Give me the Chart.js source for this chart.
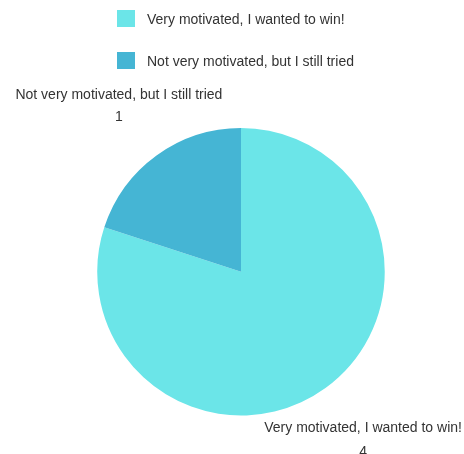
<!DOCTYPE html>
<html>
<head>
<meta charset="utf-8">
<script src="https://cdn.jsdelivr.net/npm/chart.js@4"></script>
<style>
  html, body { margin: 0; padding: 0; background: #fff; }
  #wrap { position: relative; width: 464px; height: 454px; overflow: hidden; }
  #legend { position: absolute; left: 117px; top: 0; font-family: "Liberation Sans", Arial, sans-serif; font-size: 14px; color: #333; }
  .item { position: absolute; left: 0; white-space: nowrap; display: flex; align-items: center; }
  .box { width: 18px; height: 17px; margin-right: 12px; display: inline-block; }
</style>
</head>
<body>
<div id="wrap">
  <canvas id="c" width="464" height="454"></canvas>
  <div id="legend"></div>
</div>
<script>
const categories = ["Very motivated, I wanted to win!", "Not very motivated, but I still tried"];
const values = [4, 1];
const colors = ["#6be5e8", "#45b5d4"];

// HTML legend
const legend = document.getElementById('legend');
const legendTops = [10, 52];
categories.forEach((c, i) => {
  const d = document.createElement('div');
  d.className = 'item';
  d.style.top = legendTops[i] + 'px';
  d.innerHTML = '<span class="box" style="background:' + colors[i] + '"></span><span>' + c + '</span>';
  legend.appendChild(d);
});

const outsideLabels = {
  id: 'outsideLabels',
  afterDatasetsDraw(chart) {
    const ctx = chart.ctx;
    const meta = chart.getDatasetMeta(0);
    ctx.save();
    ctx.font = '14px "Liberation Sans", Arial, sans-serif';
    ctx.fillStyle = '#333';
    ctx.textAlign = 'center';
    ctx.textBaseline = 'middle';
    meta.data.forEach((arc, i) => {
      const p = arc.getProps(['x', 'y', 'startAngle', 'endAngle', 'outerRadius'], true);
      const mid = (p.startAngle + p.endAngle) / 2;
      const r = p.outerRadius * 1.445;
      const x = p.x + Math.cos(mid) * r;
      const y = p.y + Math.sin(mid) * r;
      const lower = Math.sin(mid) > 0;
      const t1 = lower ? -11.5 : -9;
      const t2 = lower ? 12.5 : 13;
      ctx.fillText(chart.data.labels[i], x, y + t1);
      ctx.fillText(String(chart.data.datasets[0].data[i]), x, y + t2);
    });
    ctx.restore();
  }
};

new Chart(document.getElementById('c'), {
  type: 'pie',
  data: {
    labels: categories,
    datasets: [{
      data: values,
      backgroundColor: colors,
      borderWidth: 0
    }]
  },
  options: {
    responsive: false,
    animation: false,
    layout: { padding: { top: 128, bottom: 38.5, left: 71, right: 53 } },
    plugins: {
      legend: { display: false },
      tooltip: { enabled: false }
    }
  },
  plugins: [outsideLabels]
});
</script>
</body>
</html>
